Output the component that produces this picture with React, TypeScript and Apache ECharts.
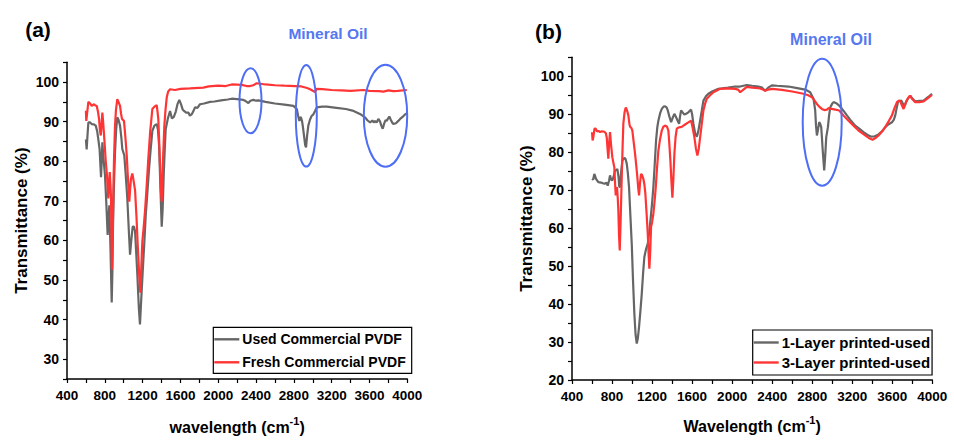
import React, { useEffect, useRef } from "react";
import * as echarts from "echarts";

// ---------- Data ----------
const USED_COMMERCIAL: [number, number][] = [
  [600,85.5],[608,83.0],[618,87],[626,89.8],[645,89.8],[661,89.4],[685,89.3],[704,89.0],[720,87.5],[731,85.6],[745,83],[760,76.0],[767,80],[774,84.8],[785,81],[802,76.4],[815,70],[830,61.4],[840,66],[848,68.9],[860,58],[873,44.3],[880,52],[887,63.9],[897,74],[908,82.3],[920,88],[932,91.1],[945,90.5],[961,89],[975,86],[985,83.1],[1006,81.5],[1020,77],[1038,70.6],[1055,62],[1067,56.4],[1080,60],[1095,63.5],[1108,63.5],[1120,62.3],[1132,57],[1144,51.4],[1160,43],[1172,38.8],[1185,45],[1201,52.2],[1217,59],[1233,66.4],[1250,72],[1268,78.1],[1285,83],[1303,87.7],[1325,89],[1349,89.4],[1362,88],[1374,84],[1390,72],[1402,63.5],[1412,68],[1423,76.4],[1434,83],[1444,88.1],[1466,90.7],[1490,92.7],[1510,90.8],[1530,91.2],[1550,92.5],[1570,94.5],[1588,95.5],[1605,94.5],[1625,93],[1638,92.7],[1660,92.3],[1684,92.3],[1700,91.5],[1720,91.9],[1740,92.8],[1754,93.6],[1780,93.5],[1807,94.4],[1850,94.6],[1913,95],[1960,95.1],[2030,95.4],[2100,95.6],[2143,95.8],[2200,95.7],[2266,95.5],[2290,95.2],[2319,94.7],[2340,95.3],[2372,95.5],[2400,95.3],[2425,95.4],[2500,95.0],[2600,94.6],[2700,94.3],[2795,94],[2831,93.2],[2845,91.5],[2858,90.2],[2868,91.2],[2876,91],[2886,90.2],[2894,89],[2910,86],[2920,84],[2929,83.5],[2940,86.5],[2953,89],[2970,90.5],[2989,91.5],[3005,91.8],[3024,92.7],[3042,93.6],[3100,93.8],[3148,93.8],[3250,93.5],[3350,93.2],[3420,92.8],[3465,92.3],[3510,91.8],[3553,91.1],[3580,90.3],[3606,89.8],[3630,90.3],[3645,89.8],[3659,90.2],[3675,89.8],[3694,90.7],[3712,90],[3725,89],[3740,88.2],[3755,89.5],[3770,90.4],[3782,90.2],[3796,90.8],[3810,91.3],[3825,90.5],[3840,89.8],[3853,89.4],[3880,89.6],[3905,90.2],[3924,90.7],[3950,91.2],[3975,91.8],[4000,92.2]
];

const FRESH_COMMERCIAL: [number, number][] = [
  [600,92.8],[604,90.2],[612,92],[626,95.0],[645,94.6],[661,94.0],[686,94.4],[700,94.1],[714,94.0],[728,92.5],[739,90.7],[748,88],[757,86.5],[765,89],[774,92.3],[782,90],[795,85.6],[810,80],[823,76.4],[837,70.6],[845,74],[852,77.3],[860,74],[866,70.6],[871,60],[876,52.6],[883,60],[890,72.3],[898,81],[908,89],[918,93],[932,95.7],[945,95],[961,94],[972,92],[982,90.7],[1003,90.2],[1018,86],[1032,81.5],[1045,75.5],[1059,69.8],[1068,73],[1077,75.6],[1091,76.9],[1105,75],[1120,72.7],[1135,66],[1148,58.9],[1162,52],[1176,46.8],[1186,53],[1197,59.7],[1210,63],[1225,67.3],[1242,73.5],[1260,80.6],[1280,87.5],[1303,93.2],[1325,93.8],[1349,94.2],[1358,92.5],[1366,90.7],[1380,82],[1392,73],[1402,69.8],[1415,80],[1430,89],[1442,93],[1455,96.1],[1470,97.6],[1490,98.2],[1543,98.0],[1600,98.3],[1700,98.4],[1842,98.6],[1900,98.9],[2000,99.1],[2080,99.0],[2143,99.4],[2250,99.3],[2300,99.0],[2337,99.0],[2370,99.2],[2407,99.7],[2500,99.4],[2600,99.2],[2700,99.1],[2813,99.0],[2880,98.9],[2940,98.5],[2971,98.2],[3000,97.8],[3024,97.5],[3042,98.3],[3100,98.2],[3200,98.0],[3300,97.9],[3400,97.8],[3536,98.0],[3600,97.8],[3700,97.7],[3747,97.6],[3800,97.9],[3850,97.7],[3900,97.8],[3995,98.0]
];

const LAYER1_USED: [number, number][] = [
  [600,73.0],[612,72.8],[623,74.3],[640,73.0],[663,72.1],[690,72],[710,71.8],[730,71.7],[745,72],[757,71.2],[770,72.5],[780,73.9],[790,72.8],[803,72.6],[815,73.5],[830,75.2],[845,75.3],[853,75.6],[865,73.5],[872,71],[880,70.8],[890,74.5],[903,77.8],[923,78.5],[935,78.2],[947,77],[958,74.5],[970,70.8],[983,63.5],[997,55.9],[1010,46],[1023,37.5],[1035,32],[1047,29.6],[1058,31],[1070,34],[1083,38],[1097,42.7],[1110,48],[1123,52.4],[1140,54.5],[1157,55.9],[1172,59],[1187,62.9],[1200,66.5],[1213,70.8],[1227,77],[1240,83.1],[1252,86.5],[1263,88.3],[1280,90.2],[1297,91.4],[1315,92],[1330,92.1],[1345,91.8],[1357,91],[1372,89.5],[1390,87.9],[1405,89],[1423,90.1],[1435,89.5],[1447,88.8],[1460,88],[1470,87.5],[1480,89.5],[1490,91],[1505,90.5],[1523,89.9],[1545,90.2],[1563,90.5],[1580,91],[1590,91.2],[1600,90],[1613,87.5],[1630,85],[1647,84.1],[1662,85.5],[1680,88.3],[1697,91],[1713,93.6],[1740,94.8],[1763,95.4],[1800,96],[1863,96.7],[1900,96.8],[1960,97],[2030,97.3],[2080,97.3],[2147,97.7],[2200,97.5],[2263,97.3],[2300,97],[2330,96.2],[2360,97],[2397,97.6],[2450,97.5],[2563,97.3],[2650,96.9],[2730,96.5],[2780,95.8],[2813,94.1],[2830,91],[2838,87],[2847,84.4],[2858,86],[2870,87.9],[2880,87.5],[2890,86.6],[2897,84],[2903,81.3],[2912,78],[2920,75.2],[2930,79],[2940,83.9],[2950,85.5],[2957,86.6],[2968,89.5],[2980,91.8],[3000,92.8],[3013,93.2],[3040,92.9],[3070,92.3],[3110,91],[3147,89.7],[3190,88.2],[3230,87],[3270,86.2],[3313,85.3],[3350,84.6],[3390,84.1],[3425,84.2],[3463,84.7],[3500,85.6],[3530,86.6],[3560,87.3],[3597,87.9],[3615,88.5],[3630,89.7],[3645,91.8],[3657,93.2],[3670,93.5],[3690,93.6],[3712,92.5],[3725,92.2],[3737,93.2],[3760,94.3],[3780,94.9],[3805,94],[3830,93.4],[3870,93.5],[3913,93.6],[3950,94.4],[3970,94.8],[3997,95.4]
];

const LAYER3_USED: [number, number][] = [
  [600,85.3],[606,83.1],[613,84],[625,86.2],[637,86.2],[650,85.5],[665,85.6],[680,85.3],[700,85.5],[723,85.4],[738,85],[747,83.9],[755,81],[763,78.3],[770,82],[780,85.3],[790,82],[803,78.7],[815,77],[823,76],[830,72],[837,68.6],[843,70],[850,70.8],[857,68],[863,64.7],[870,58],[877,54.1],[885,61],[897,73.4],[905,81],[913,87.5],[925,90.5],[937,91.8],[950,91],[963,89.7],[975,87.2],[983,86.6],[993,86.4],[1003,85.7],[1017,82.5],[1030,79.6],[1042,76.5],[1053,73.4],[1062,70.5],[1070,68.6],[1080,72],[1090,74.3],[1100,74],[1113,73],[1123,71.5],[1133,69.1],[1145,64],[1157,58.5],[1165,53.5],[1173,49.3],[1182,54],[1190,60.3],[1200,61.5],[1213,63.8],[1225,67],[1237,70.8],[1250,76],[1263,80.4],[1280,83.5],[1297,85.7],[1313,86.7],[1330,87],[1348,86.8],[1363,85.7],[1373,82],[1383,77.8],[1393,72.5],[1403,68],[1413,73],[1423,79.6],[1435,84],[1447,86.2],[1465,86.5],[1480,86.6],[1497,86.7],[1513,87],[1530,87.3],[1547,87.6],[1570,88],[1590,88.3],[1605,86.5],[1623,83.9],[1638,81],[1653,79.1],[1667,81],[1680,83.9],[1697,87.5],[1713,91],[1730,92.8],[1747,94.1],[1780,95],[1813,95.8],[1880,96.7],[1950,96.8],[2030,96.7],[2060,96.5],[2080,95.8],[2100,96.2],[2147,97.2],[2200,97],[2263,96.9],[2300,96.6],[2330,96.2],[2360,96.5],[2400,96.7],[2497,96.4],[2600,96],[2713,95.4],[2760,95],[2797,94.5],[2820,93.7],[2847,92.7],[2870,92],[2897,91.4],[2920,91.1],[2947,91.2],[2965,91.6],[2980,91.5],[3020,91.3],[3070,91],[3115,89.6],[3163,88.3],[3213,87],[3263,85.7],[3305,84.9],[3347,84.1],[3375,83.6],[3403,83.3],[3435,83.8],[3463,84.4],[3500,85.5],[3530,86.6],[3565,88.2],[3597,89.7],[3620,91.5],[3647,93.2],[3665,93.6],[3680,93.4],[3697,92.3],[3713,91.4],[3725,92.3],[3737,93.2],[3757,94.2],[3777,94.9],[3800,94],[3827,93.2],[3870,93.2],[3913,93.4],[3950,94.1],[3997,95.1]
];

const SERIES_NAMES_A = ["Used Commercial PVDF", "Fresh Commercial PVDF"];
const SERIES_NAMES_B = ["1-Layer printed-used", "3-Layer printed-used"];
const X_MIN = 400;
const X_MAX = 4000;
const Y_MIN_A = 25;
const Y_MIN_B = 20;
const Y_MAX = 105;

const FONT = "'Liberation Sans', Arial, Helvetica, sans-serif";
const GRAY = "#666666";
const RED = "#ff3535";
const BLUE = "#4d6ef5";
const LEGEND_ICON = "path://M0,0 L25,0 L25,2.4 L0,2.4 Z";

function xAxisCfg(gridIndex: number, label: string, nameGap: number) {
  return {
    type: "value",
    gridIndex,
    min: X_MIN,
    max: X_MAX,
    interval: 200,
    name: `{n|${label} (cm}{s|-1}{n|)}`,
    nameLocation: "middle",
    nameGap,
    nameTextStyle: {
      rich: {
        n: { fontSize: 16, fontWeight: "bold", fontFamily: FONT, color: "#000", lineHeight: 20, verticalAlign: "bottom" },
        s: { fontSize: 11, fontWeight: "bold", fontFamily: FONT, color: "#000", lineHeight: 20, verticalAlign: "top" },
      },
    },
    axisLine: { show: true, onZero: false, lineStyle: { color: "#000", width: 1.5 } },
    axisTick: { show: true, inside: false, length: 4, lineStyle: { color: "#000", width: 1.2 } },
    axisLabel: {
      margin: 9,
      fontSize: 13.5,
      fontWeight: "bold",
      fontFamily: FONT,
      color: "#000",
      showMinLabel: true,
      showMaxLabel: true,
      formatter: (v: number) => (v % 400 === 0 ? String(v) : ""),
    },
    splitLine: { show: false },
  };
}

function yAxisCfg(gridIndex: number, yMin: number, labelMin: number) {
  return {
    type: "value",
    gridIndex,
    min: yMin,
    max: Y_MAX,
    interval: 5,
    name: "Transmittance (%)",
    nameLocation: "middle",
    nameGap: 37,
    nameTextStyle: { fontSize: 17, fontWeight: "bold", fontFamily: FONT, color: "#000" },
    axisLine: { show: true, onZero: false, lineStyle: { color: "#000", width: 1.5 } },
    axisTick: { show: true, inside: false, length: 4, lineStyle: { color: "#000", width: 1.2 } },
    axisLabel: {
      margin: 8,
      fontSize: 14,
      fontWeight: "bold",
      fontFamily: FONT,
      color: "#000",
      formatter: (v: number) => (v % 10 === 0 && v >= labelMin && v <= 100 ? String(v) : ""),
    },
    splitLine: { show: false },
  };
}

function lineSeries(name: string, data: [number, number][], axisIndex: number, color: string) {
  return {
    name,
    type: "line",
    xAxisIndex: axisIndex,
    yAxisIndex: axisIndex,
    data,
    symbol: "none",
    showSymbol: false,
    smooth: false,
    clip: true,
    lineStyle: { color, width: 2.2 },
    itemStyle: { color },
    emphasis: { disabled: true },
  };
}

function legendCfg(names: string[], left: number, top: number, fontSize: number, gap: number, padding: number[]) {
  return {
    orient: "vertical",
    left,
    top,
    data: names.map((n) => ({ name: n, icon: LEGEND_ICON })),
    itemWidth: 25,
    itemHeight: fontSize,
    itemGap: gap,
    symbolKeepAspect: true,
    padding,
    borderColor: "#000",
    borderWidth: 1.2,
    backgroundColor: "#fff",
    selectedMode: false,
    textStyle: { fontSize, fontWeight: "bold", fontFamily: FONT, color: "#000", padding: [0, 0, 0, -2] },
  };
}

function textEl(text: string, x: number, y: number, fontSize: number, color: string) {
  return {
    type: "text",
    x,
    y,
    z: 100,
    style: {
      text,
      fill: color,
      fontSize,
      fontWeight: "bold",
      fontFamily: FONT,
      align: "center",
      verticalAlign: "middle",
      textAlign: "center",
      textVerticalAlign: "middle",
    },
  };
}

function ellipseEl(cx: number, cy: number, rx: number, ry: number) {
  return {
    type: "ellipse",
    z: 100,
    shape: { cx, cy, rx, ry },
    style: { fill: "none", stroke: BLUE, lineWidth: 2 },
  };
}

export default function App() {
  const ref = useRef<HTMLDivElement>(null);

  useEffect(() => {
    if (!ref.current) return;
    const chart = echarts.init(ref.current, undefined, { renderer: "svg" });
    const option: any = {
      animation: false,
      backgroundColor: "#ffffff",
      textStyle: { fontFamily: FONT },
      grid: [
        { left: 67, top: 62.3, width: 340.3, height: 319.4, containLabel: false },
        { left: 572, top: 57.3, width: 360.3, height: 322.7, containLabel: false },
      ],
      xAxis: [xAxisCfg(0, "wavelength", 36), xAxisCfg(1, "Wavelength", 34)],
      yAxis: [yAxisCfg(0, Y_MIN_A, 30), yAxisCfg(1, Y_MIN_B, 20)],
      legend: [
        legendCfg(SERIES_NAMES_A, 213.3, 327.3, 14, 9, [5, 6, 4, 1]),
        legendCfg(SERIES_NAMES_B, 752.7, 330, 15, 5, [5, 2, 5, 1]),
      ],
      series: [
        lineSeries(SERIES_NAMES_A[0], USED_COMMERCIAL, 0, GRAY),
        lineSeries(SERIES_NAMES_A[1], FRESH_COMMERCIAL, 0, RED),
        lineSeries(SERIES_NAMES_B[0], LAYER1_USED, 1, GRAY),
        lineSeries(SERIES_NAMES_B[1], LAYER3_USED, 1, RED),
      ],
      graphic: [
        textEl("(a)", 38, 29, 21, "#000"),
        textEl("(b)", 548.5, 31, 21, "#000"),
        textEl("Mineral Oil", 328, 33, 15.5, "#5577f0"),
        textEl("Mineral Oil", 831, 39, 16, "#5577f0"),
        ellipseEl(250.5, 100.8, 11, 32.5),
        ellipseEl(306.3, 115.8, 10.5, 50.8),
        ellipseEl(385.5, 115.7, 21.7, 51),
        ellipseEl(822.2, 122.2, 19.5, 63.5),
      ],
    };
    chart.setOption(option);
    return () => {
      chart.dispose();
    };
  }, []);

  return (
    <div
      ref={ref}
      style={{ position: "absolute", left: 0, top: 0, width: 954, height: 440, background: "#fff" }}
    />
  );
}
